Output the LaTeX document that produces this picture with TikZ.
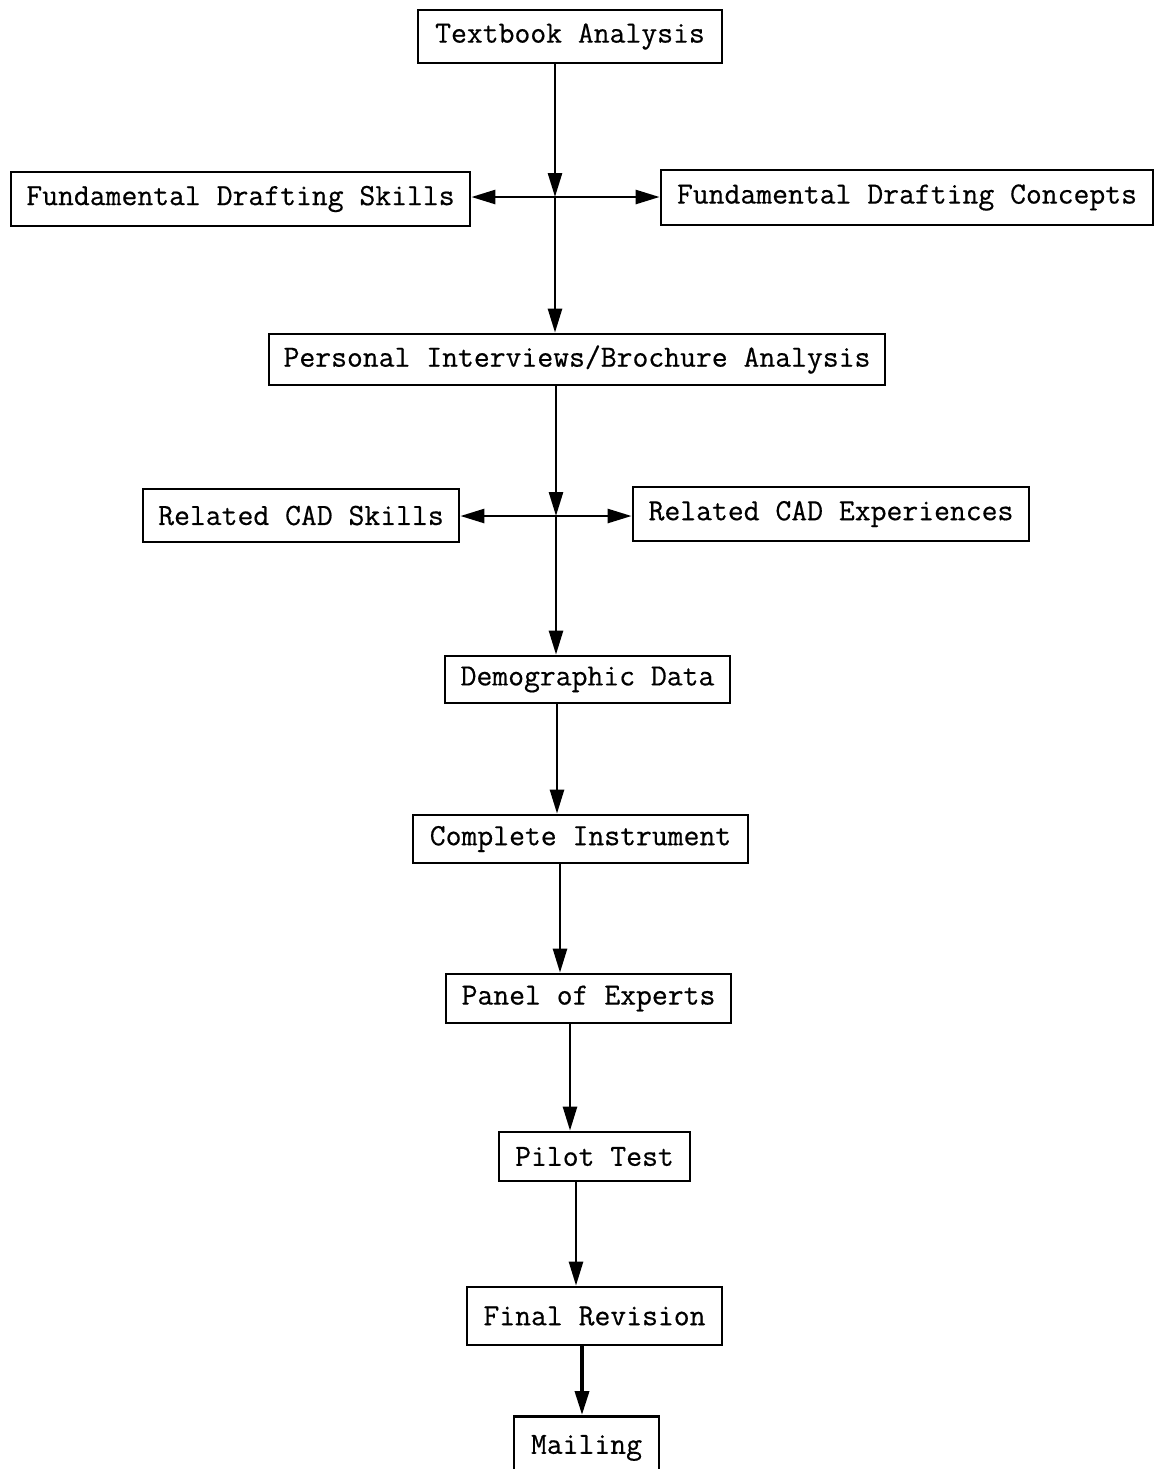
\documentclass[tikz,border=0pt]{standalone}
\usepackage{fontspec}
\newfontfamily\tw[FakeBold=0.5]{Latin Modern Mono}
\usetikzlibrary{arrows.meta}
\begin{document}
\begin{tikzpicture}[x=0.5pt,y=-0.5pt,
  box/.style={draw,line width=1.4pt,inner sep=0pt,align=center,font=\fontsize{15.4}{18}\selectfont\tw},
  arr/.style={line width=1.3pt,-{Triangle[length=12pt,width=7pt]}},
  ln/.style={line width=1.3pt}]
\useasboundingbox (0,0) rectangle (1156,1469);
\fill[white] (0,0) rectangle (1156,1469);
\node[box,minimum width=152pt,minimum height=26.5pt] (T) at (570,36.5) {Textbook Analysis};
\node[box,minimum width=229.5pt,minimum height=27pt] (FDS) at (240.5,199) {Fundamental Drafting Skills};
\node[box,minimum width=246pt,minimum height=27.5pt] (FDC) at (907,197.5) {Fundamental Drafting Concepts};
\node[box,minimum width=308pt,minimum height=25.5pt] (P) at (577,359.5) {Personal Interviews/Brochure Analysis};
\node[box,minimum width=158pt,minimum height=26.5pt] (RS) at (301,515.5) {Related CAD Skills};
\node[box,minimum width=198pt,minimum height=27pt] (RE) at (831,514) {Related CAD Experiences};
\node[box,minimum width=142.5pt,minimum height=23.5pt] (D) at (587.5,679.5) {Demographic Data};
\node[box,minimum width=167.5pt,minimum height=24pt] (C) at (580.5,839) {Complete Instrument};
\node[box,minimum width=142.5pt,minimum height=24.5pt] (PE) at (588.5,998.5) {Panel of Experts};
\node[box,minimum width=95.5pt,minimum height=24.5pt] (PT) at (594.5,1156.5) {Pilot Test};
\node[box,minimum width=127.5pt,minimum height=29pt] (FR) at (594.5,1316) {Final Revision};
\node[box,minimum width=72.5pt,minimum height=30pt,text depth=0pt,anchor=north] (M) at (586.5,1415) {\raisebox{2pt}{Mailing}};
% junctions
\coordinate (j1) at (555,197);
\coordinate (j2) at (556,516);
\draw[arr] (T.south -| j1) -- (j1);
\draw[arr] (j1) -- (P.north -| j1);
\draw[arr] (j1) -- (FDS.east |- j1);
\draw[arr] (j1) -- (FDC.west |- j1);
\draw[arr] (P.south -| j2) -- (j2);
\draw[arr] (j2) -- (D.north -| j2);
\draw[arr] (j2) -- (RS.east |- j2);
\draw[arr] (j2) -- (RE.west |- j2);
\coordinate (c1) at (557,0);
\draw[arr] (D.south -| c1) -- (C.north -| c1);
\coordinate (c2) at (560,0);
\draw[arr] (C.south -| c2) -- (PE.north -| c2);
\coordinate (c3) at (570,0);
\draw[arr] (PE.south -| c3) -- (PT.north -| c3);
\coordinate (c4) at (576,0);
\draw[arr] (PT.south -| c4) -- (FR.north -| c4);
\coordinate (c5) at (582,0);
\draw[arr,line width=1.8pt] (FR.south -| c5) -- (M.north -| c5);
\end{tikzpicture}
\end{document}
